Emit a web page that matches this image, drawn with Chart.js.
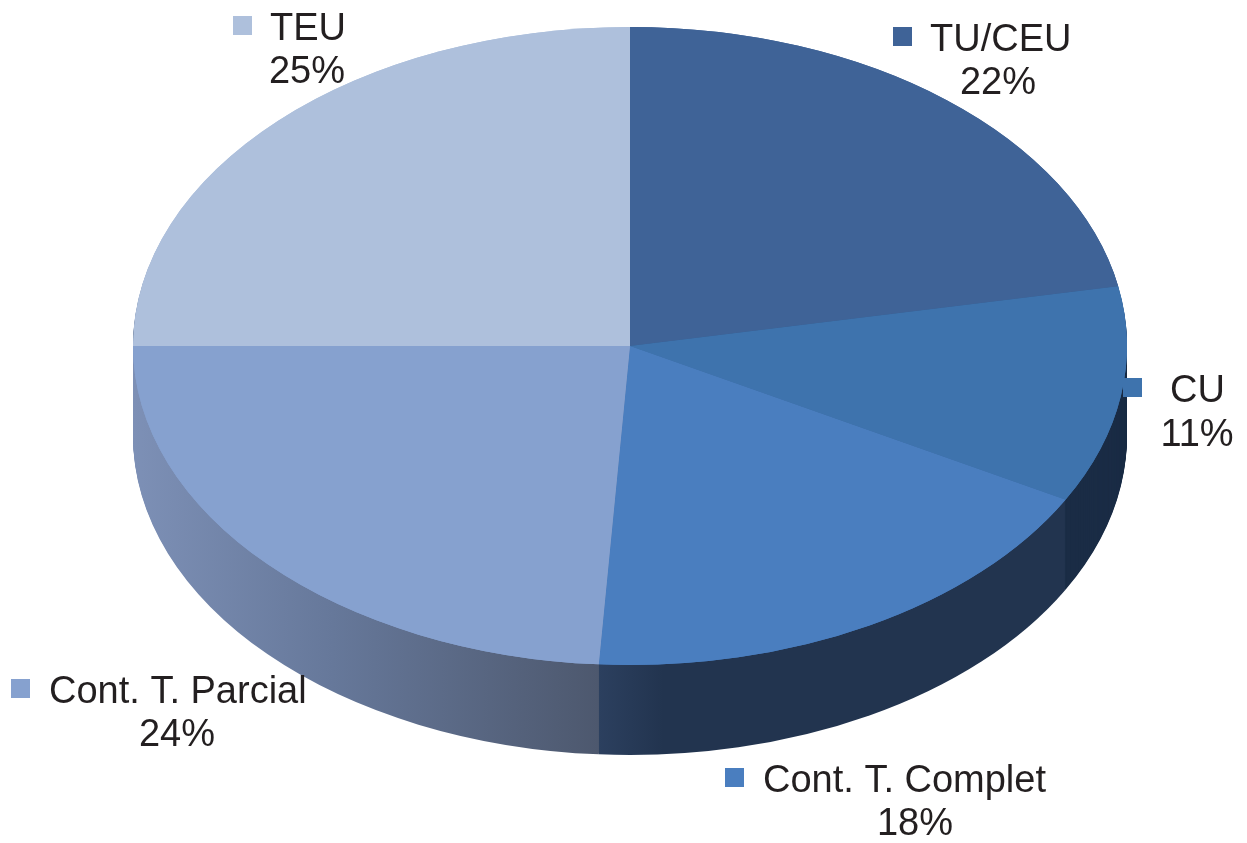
<!DOCTYPE html>
<html>
<head>
<meta charset="utf-8">
<title>Pie</title>
<script src="https://cdn.jsdelivr.net/npm/chart.js@4/dist/chart.umd.min.js"></script>
<style>
    html, body { margin: 0; padding: 0; background: #fff; }
    #wrap { position: relative; width: 1247px; height: 843px; }
</style>
</head>
<body>
<div id="wrap"><canvas id="pie"></canvas></div>
<script>
const categories = ['TU/CEU', 'CU', 'Cont. T. Complet', 'Cont. T. Parcial', 'TEU'];
const shares = [22, 11, 18, 24, 25];
const sliceColors = ['#3f6397', '#3e73ad', '#4a7ebf', '#86a1cf', '#aec0dc'];

// ellipse of the tilted pie, in page pixels
const radiusX = 497;
const tilt = 319 / 497;
const depth = 90;

// where each label sits: marker box, first line, second line
const labelSpots = [
    { box: [893, 27], x: 930, y: 51, pctX: 998, pctY: 94 },
    { box: [1123, 378], x: 1170, y: 402, pctX: 1197, pctY: 446 },
    { box: [725, 768], x: 763, y: 792, pctX: 915, pctY: 835 },
    { box: [11, 679], x: 49, y: 703, pctX: 177, pctY: 746 },
    { box: [233, 16], x: 270, y: 40, pctX: 307, pctY: 83 }
];

function wallFill(ctx, i) {
    // side wall colours per slice, lit from the left
    if (i === 3) {
        const g = ctx.createLinearGradient(133, 0, 598, 0);
        g.addColorStop(0, '#7d90b6');
        g.addColorStop(0.43, '#66789a');
        g.addColorStop(1, '#4d586e');
        return g;
    }
    if (i === 2) {
        const g = ctx.createLinearGradient(598, 0, 1065, 0);
        g.addColorStop(0, '#2c405f');
        g.addColorStop(0.14, '#22344f');
        g.addColorStop(1, '#22344f');
        return g;
    }
    return '#1a2c45';
}

const tiltPlugin = {
    id: 'tilt',
    beforeDatasetsDraw(chart) {
        const ctx = chart.ctx;
        const arcs = chart.getDatasetMeta(0).data;
        const cy = arcs[0].y;
        ctx.save();
        ctx.translate(0, cy);
        ctx.scale(1, tilt);
        ctx.translate(0, -cy);
        // stack the slices downward to build the side wall
        for (let d = depth; d >= 0; d--) {
            arcs.forEach((arc, i) => {
                const layer = Object.create(arc);
                layer.y = arc.y + d / tilt;
                layer.options = Object.assign({}, arc.options, {
                    backgroundColor: d === 0 ? sliceColors[i] : wallFill(ctx, i)
                });
                arc.draw.call(layer, ctx);
            });
        }
    },
    afterDatasetsDraw(chart) {
        chart.ctx.restore();
    },
    afterDraw(chart) {
        const ctx = chart.ctx;
        ctx.save();
        ctx.font = '38px "Liberation Sans"';
        ctx.textBaseline = 'alphabetic';
        categories.forEach((name, i) => {
            const spot = labelSpots[i];
            ctx.fillStyle = sliceColors[i];
            ctx.fillRect(spot.box[0], spot.box[1], 19, 19);
            ctx.fillStyle = '#231f20';
            ctx.textAlign = 'left';
            ctx.fillText(name, spot.x, spot.y);
            ctx.textAlign = 'center';
            ctx.fillText(shares[i] + '%', spot.pctX, spot.pctY);
        });
        ctx.restore();
    }
};

new Chart(document.getElementById('pie'), {
    type: 'pie',
    data: {
        labels: categories,
        datasets: [{
            data: shares,
            backgroundColor: sliceColors,
            borderWidth: 0,
            clip: false
        }]
    },
    options: {
        responsive: true,
        maintainAspectRatio: false,
        animation: false,
        radius: radiusX,
        layout: { padding: { left: 13, bottom: 151 } },
        plugins: { legend: { display: false }, tooltip: { enabled: false } }
    },
    plugins: [tiltPlugin]
});
</script>
</body>
</html>
